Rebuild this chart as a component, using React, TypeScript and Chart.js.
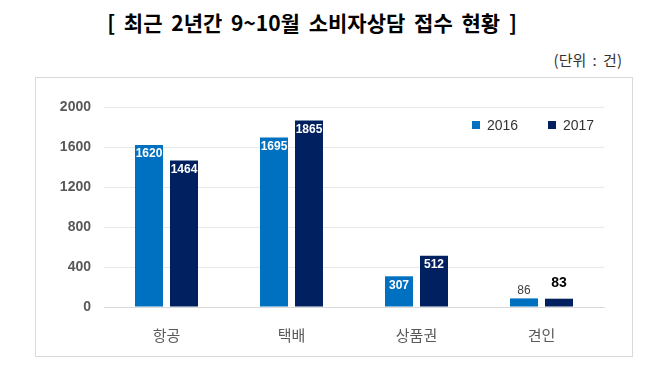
import React, { useEffect, useRef } from "react";
import { Chart, registerables } from "chart.js";

Chart.register(...registerables);

const titleText = "[ 최근 2년간 9~10월 소비자상담 접수 현황 ]";
const unitText = "(단위 : 건)";
const categories = ["항공", "택배", "상품권", "견인"];
const seriesLabels = ["2016", "2017"];
const values2016 = [1620, 1695, 307, 86];
const values2017 = [1464, 1865, 512, 83];
const yMin = 0;
const yMax = 2000;
const yStep = 400;

const COLORS = ["#0070C0", "#002060"];
const KR = '"Noto Sans CJK KR", "Noto Sans", sans-serif';
const NUM = '"Liberation Sans", Arial, sans-serif';

const legendPlugin = {
  id: "insideLegend",
  afterDatasetsDraw(chart: any) {
    const { ctx, chartArea } = chart;
    let x = chartArea.right - 132;
    const y = chartArea.top + 18;
    ctx.save();
    chart.data.datasets.forEach((ds: any) => {
      ctx.fillStyle = ds.backgroundColor;
      ctx.fillRect(x, y - 4, 8, 8);
      ctx.fillStyle = "#333333";
      ctx.font = `14px ${NUM}`;
      ctx.textAlign = "left";
      ctx.textBaseline = "middle";
      ctx.fillText(ds.label, x + 15, y + 1);
      x += 76;
    });
    ctx.restore();
  },
};

const valueLabelPlugin = {
  id: "valueLabels",
  afterDatasetsDraw(chart: any) {
    const { ctx } = chart;
    ctx.save();
    ctx.textAlign = "center";
    ctx.textBaseline = "middle";
    chart.data.datasets.forEach((ds: any, di: number) => {
      const meta = chart.getDatasetMeta(di);
      meta.data.forEach((bar: any, i: number) => {
        const v = ds.data[i];
        const text = String(v);
        if (v > 200) {
          ctx.fillStyle = "#ffffff";
          ctx.font = `bold 12px ${NUM}`;
          ctx.fillText(text, bar.x, bar.y + 9);
        } else if (di === 0) {
          ctx.fillStyle = "#404040";
          ctx.font = `12px ${NUM}`;
          ctx.fillText(text, bar.x, bar.y - 8);
        } else {
          ctx.fillStyle = "#000000";
          ctx.font = `bold 14px ${NUM}`;
          ctx.fillText(text, bar.x, bar.y - 16);
        }
      });
    });
    ctx.restore();
  },
};

function ChartCanvas() {
  const ref = useRef<HTMLCanvasElement | null>(null);
  useEffect(() => {
    if (!ref.current) return;
    const chart = new Chart(ref.current, {
      type: "bar",
      data: {
        labels: categories,
        datasets: [
          {
            label: seriesLabels[0],
            data: values2016,
            backgroundColor: COLORS[0],
            categoryPercentage: 0.56,
            barPercentage: 0.8,
          },
          {
            label: seriesLabels[1],
            data: values2017,
            backgroundColor: COLORS[1],
            categoryPercentage: 0.56,
            barPercentage: 0.8,
          },
        ],
      },
      options: {
        responsive: false,
        animation: false,
        layout: { padding: { left: 44, right: 46, top: 107, bottom: 0 } },
        plugins: {
          legend: { display: false },
          tooltip: { enabled: false },
          title: { display: false },
        },
        scales: {
          x: {
            grid: { display: false },
            border: { display: true, color: "#d9d9d9", width: 1 },
            ticks: {
              color: "#595959",
              font: { family: KR, size: 15 },
              padding: 11,
            },
            afterFit: (s: any) => {
              s.height = 70;
            },
          },
          y: {
            min: yMin,
            max: yMax,
            ticks: {
              stepSize: yStep,
              color: "#595959",
              font: { family: NUM, size: 14, weight: "bold" },
              padding: 13,
              callback: (v: any) => String(v),
            },
            grid: { color: "#e8e8e8", drawTicks: false },
            border: { display: false },
            afterFit: (s: any) => {
              s.width = 60;
            },
          },
        },
      },
      plugins: [legendPlugin, valueLabelPlugin],
    } as any);
    return () => chart.destroy();
  }, []);
  return (
    <canvas
      ref={ref}
      width={650}
      height={377}
      style={{ position: "absolute", left: 0, top: 0, width: 650, height: 377 }}
    />
  );
}

export default function App() {
  return (
    <div
      style={{
        position: "fixed",
        left: 0,
        top: 0,
        width: 650,
        height: 377,
        background: "#ffffff",
        overflow: "hidden",
      }}
    >
      <div
        style={{
          position: "absolute",
          left: 0,
          top: 7,
          width: 624,
          textAlign: "center",
          fontFamily: KR,
          fontWeight: "bold",
          fontSize: 21,
          wordSpacing: 4,
          lineHeight: "30px",
          color: "#000",
          whiteSpace: "nowrap",
        }}
      >
        {titleText}
      </div>
      <div
        style={{
          position: "absolute",
          right: 28,
          top: 50,
          fontFamily: KR,
          fontSize: 15,
          wordSpacing: 3,
          lineHeight: "20px",
          color: "#333",
          whiteSpace: "nowrap",
        }}
      >
        {unitText}
      </div>
      <div
        style={{
          position: "absolute",
          left: 35,
          top: 77,
          width: 598,
          height: 280,
          boxSizing: "border-box",
          border: "1px solid #d9d9d9",
        }}
      />
      <ChartCanvas />
    </div>
  );
}
